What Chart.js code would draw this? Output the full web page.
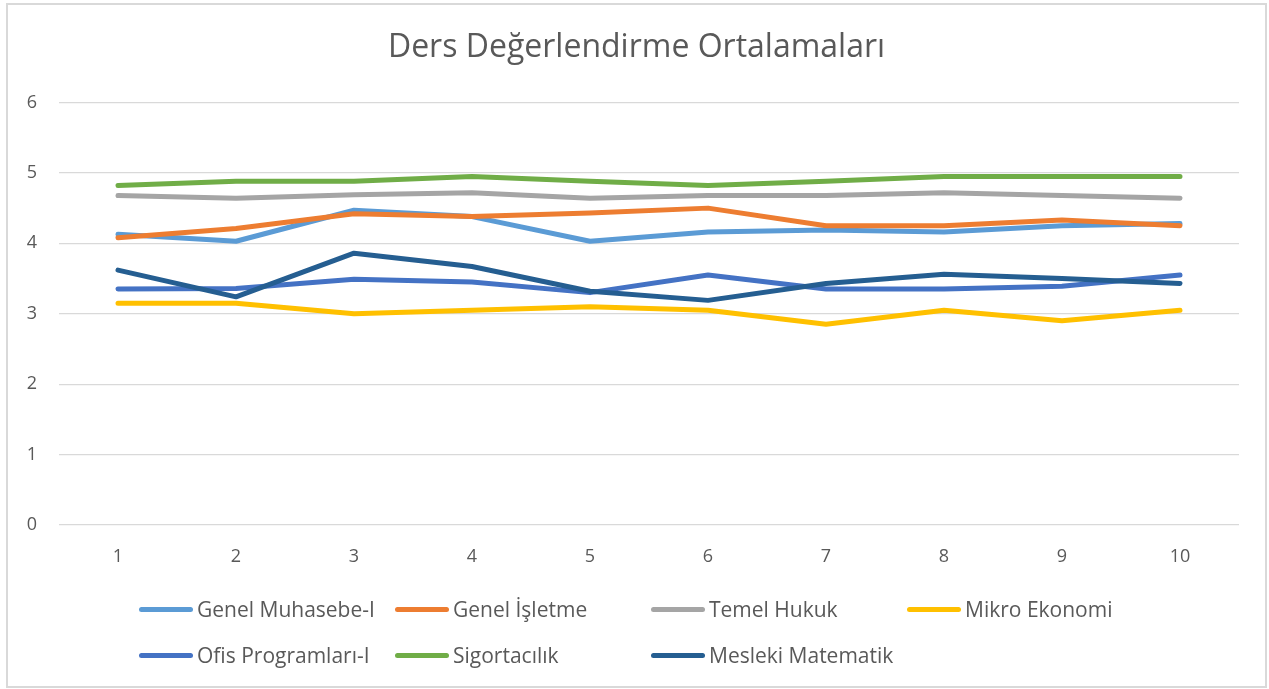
<!DOCTYPE html>
<html>
<head>
<meta charset="utf-8">
<script src="https://cdn.jsdelivr.net/npm/chart.js@4/dist/chart.umd.min.js"></script>
<style>
  html, body { margin: 0; padding: 0; background: #fff; }
  #wrap { position: absolute; left: 0; top: 0; width: 1269px; height: 689px; }
  #frame { position: absolute; left: 6px; top: 3px; width: 1261px; height: 685px; box-sizing: border-box; border: 2px solid #d9d9d9; pointer-events: none; }
  #legend { position: absolute; left: 0; top: 0; width: 1269px; height: 689px; pointer-events: none; font-family: "Open Sans", sans-serif; font-size: 21px; color: #595959; }
  .li { position: absolute; display: flex; align-items: center; height: 26px; white-space: nowrap; }
  .sw { width: 54px; height: 5px; border-radius: 3px; margin-right: 4px; }
</style>
</head>
<body>
<div id="wrap"><canvas id="c" width="1269" height="689"></canvas></div>
<div id="frame"></div>
<div id="legend"></div>
<script>
const titleText = "Ders Değerlendirme Ortalamaları";
const categories = ["1", "2", "3", "4", "5", "6", "7", "8", "9", "10"];
const seriesNames = ["Genel Muhasebe-I", "Genel İşletme", "Temel Hukuk", "Mikro Ekonomi", "Ofis Programları-I", "Sigortacılık", "Mesleki Matematik"];
const genelMuhasebe = [4.13, 4.03, 4.47, 4.38, 4.03, 4.16, 4.19, 4.16, 4.25, 4.28];
const genelIsletme  = [4.08, 4.21, 4.42, 4.38, 4.43, 4.50, 4.25, 4.25, 4.33, 4.25];
const temelHukuk    = [4.68, 4.64, 4.69, 4.72, 4.64, 4.68, 4.68, 4.72, 4.68, 4.64];
const mikroEkonomi  = [3.15, 3.15, 3.00, 3.05, 3.10, 3.05, 2.85, 3.05, 2.90, 3.05];
const ofisProgramlari = [3.35, 3.36, 3.49, 3.45, 3.30, 3.55, 3.35, 3.35, 3.39, 3.55];
const sigortacilik  = [4.82, 4.88, 4.88, 4.95, 4.88, 4.82, 4.88, 4.95, 4.95, 4.95];
const meslekiMatematik = [3.62, 3.24, 3.86, 3.67, 3.32, 3.19, 3.43, 3.56, 3.50, 3.43];
const yTicks = [0, 1, 2, 3, 4, 5, 6];
const colors = ["#5B9BD5", "#ED7D31", "#A5A5A5", "#FFC000", "#4472C4", "#70AD47", "#255E91"];

const allSeries = [genelMuhasebe, genelIsletme, temelHukuk, mikroEkonomi, ofisProgramlari, sigortacilik, meslekiMatematik];

const datasets = allSeries.map((d, i) => ({
  label: seriesNames[i],
  data: d,
  borderColor: colors[i],
  backgroundColor: colors[i],
  borderWidth: 5,
  borderCapStyle: "round",
  borderJoinStyle: "round",
  pointRadius: 0,
  tension: 0,
  fill: false,
  order: allSeries.length - i
}));

const shiftTitle = {
  id: "shiftTitle",
  afterLayout(chart) {
    if (chart.titleBlock) { chart.titleBlock.left += 34; }
  }
};

const font = "'Open Sans', sans-serif";
new Chart(document.getElementById("c"), {
  type: "line",
  data: { labels: categories, datasets },
  plugins: [shiftTitle],
  options: {
    responsive: false,
    animation: false,
    layout: { padding: { left: 0, right: 30, top: 0, bottom: 114 } },
    plugins: {
      legend: { display: false },
      tooltip: { enabled: false },
      title: {
        display: true,
        text: titleText,
        color: "#595959",
        font: { family: font, size: 32, weight: "normal", lineHeight: 1.2 },
        padding: { top: 29, bottom: 35.1 }
      }
    },
    scales: {
      x: {
        type: "category",
        offset: true,
        grid: { display: false, drawTicks: false },
        border: { display: false },
        ticks: { color: "#595959", font: { family: font, size: 18 }, padding: 21, maxRotation: 0, autoSkip: false },
        afterFit: s => { s.height = 50; }
      },
      y: {
        min: 0, max: 6,
        grid: { color: "#d9d9d9", lineWidth: 1.3, drawTicks: false },
        border: { display: false },
        ticks: { color: "#595959", font: { family: font, size: 18 }, padding: 22, stepSize: 1,
                 callback: (v) => yTicks.includes(v) ? String(v) : null },
        afterFit: s => { s.width = 59; }
      }
    }
  }
});

// legend in Excel-like column grid
const legend = document.getElementById("legend");
const colX = [139, 395, 651, 907];
const rowY = [609, 655];
seriesNames.forEach((name, i) => {
  const el = document.createElement("div");
  el.className = "li";
  el.style.left = colX[i % 4] + "px";
  el.style.top = (rowY[Math.floor(i / 4)] - 13) + "px";
  el.innerHTML = '<div class="sw" style="background:' + colors[i] + '"></div><span>' + name + '</span>';
  legend.appendChild(el);
});
</script>
</body>
</html>
